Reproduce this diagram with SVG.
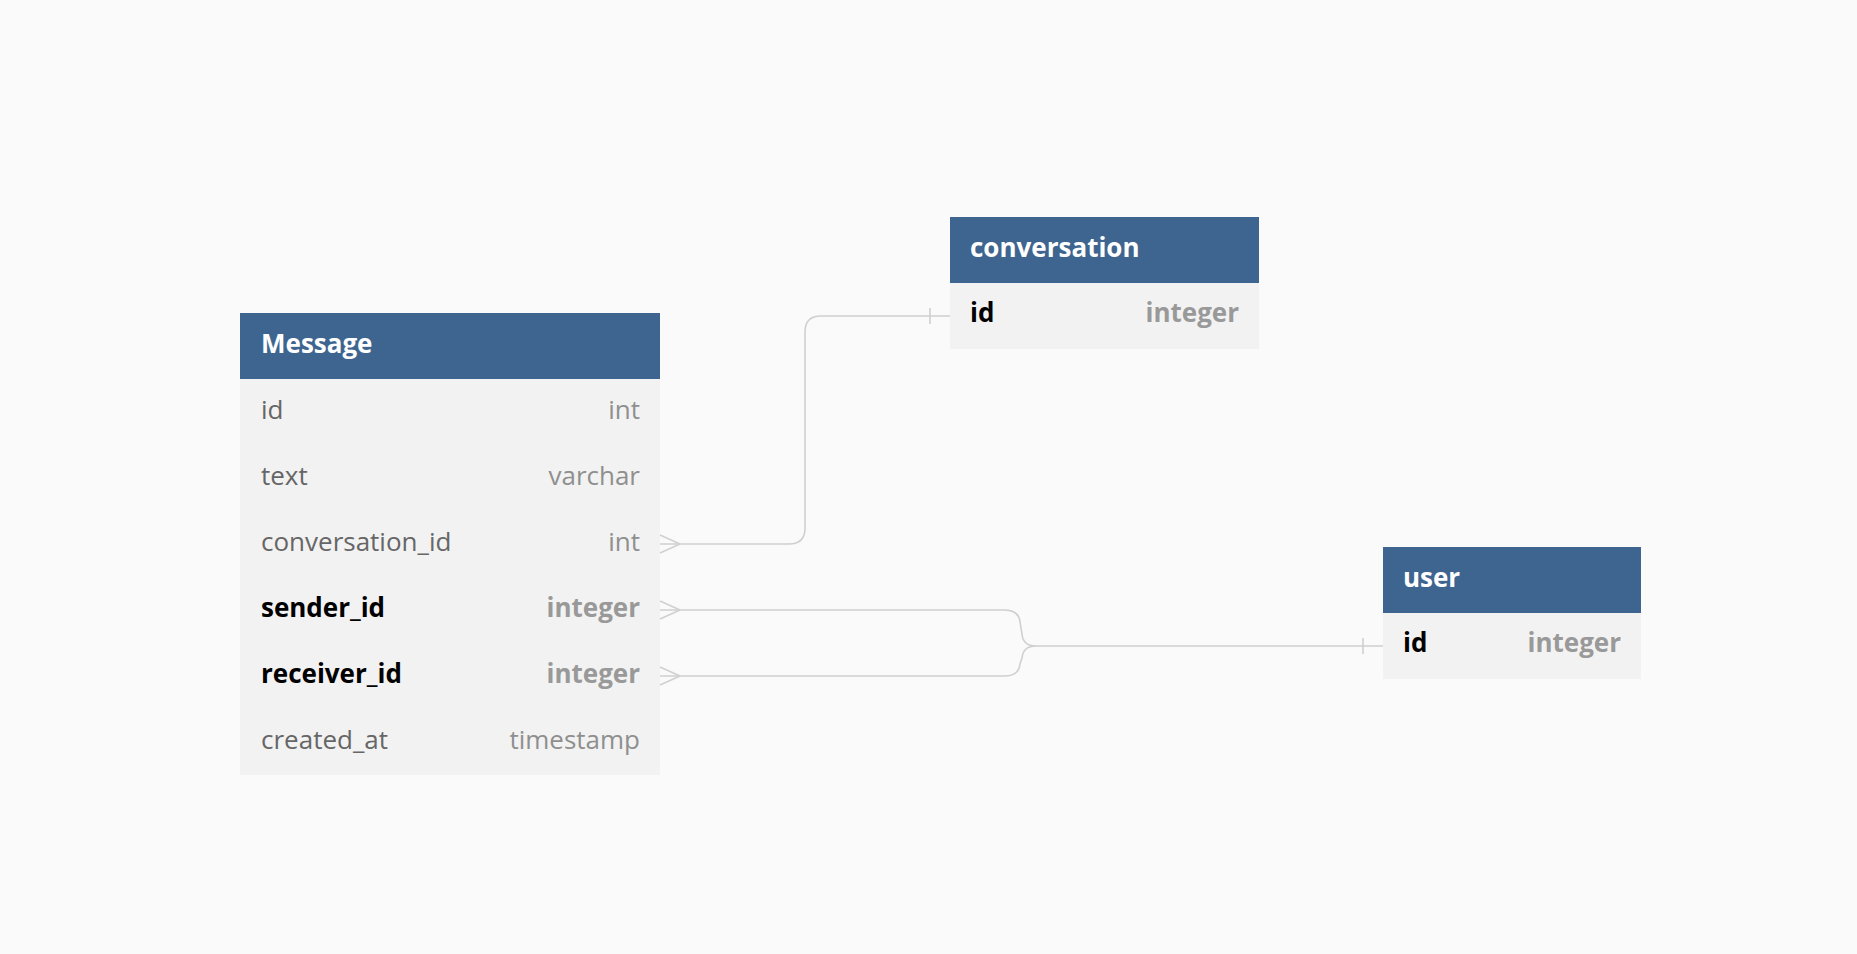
<svg xmlns="http://www.w3.org/2000/svg" width="1857" height="954" viewBox="0 0 1857 954">
<style>
.hdr{fill:#3e658f}
.body{fill:#f2f2f2}
.title{font-family:"Open Sans","Liberation Sans",sans-serif;font-size:26px;font-weight:700;fill:#ffffff}
.f{font-family:"Open Sans","Liberation Sans",sans-serif;font-size:26px;fill:#666666}
.t{font-family:"Open Sans","Liberation Sans",sans-serif;font-size:26px;fill:#8f8f8f;text-anchor:end}
.fb{font-family:"Open Sans","Liberation Sans",sans-serif;font-size:26px;font-weight:700;fill:#000000}
.tb{font-family:"Open Sans","Liberation Sans",sans-serif;font-size:26px;font-weight:700;fill:#999999;text-anchor:end}
.c{fill:none;stroke:#d0d0d0;stroke-width:1.6}
</style>
<rect width="1857" height="954" fill="#fafafa"/>
<g id="connectors">
<path class="c" d="M660,544 H789 Q805,544 805,528 V332 Q805,316 821,316 H950"/>
<path class="c" d="M660,535 L680,544 M660,553 L680,544"/>
<path class="c" d="M930,308 V324"/>
<path class="c" d="M660,610 H1004 Q1019,610 1020,622 L1022,634 Q1023,646 1036,646 H1383"/>
<path class="c" d="M660,676 H1004 Q1019,676 1020,664 L1022,658 Q1023,646 1036,646"/>
<path class="c" d="M660,601 L680,610 M660,619 L680,610"/>
<path class="c" d="M660,667 L680,676 M660,685 L680,676"/>
<path class="c" d="M1363,638 V654"/>
</g>
<g id="Message">
<rect class="body" x="240" y="379" width="420" height="396"/>
<rect class="hdr" x="240" y="313" width="420" height="66"/>
<text class="title" x="261" y="353">Message</text>
<text class="f" x="261" y="418.5">id</text><text class="t" x="640" y="418.5">int</text>
<text class="f" x="261" y="484.5">text</text><text class="t" x="640" y="484.5">varchar</text>
<text class="f" x="261" y="550.5">conversation_id</text><text class="t" x="640" y="550.5">int</text>
<text class="fb" x="261" y="616.5">sender_id</text><text class="tb" x="640" y="616.5">integer</text>
<text class="fb" x="261" y="682.5">receiver_id</text><text class="tb" x="640" y="682.5">integer</text>
<text class="f" x="261" y="748.5">created_at</text><text class="t" x="640" y="748.5">timestamp</text>
</g>
<g id="conversation">
<rect class="body" x="950" y="283" width="309" height="66"/>
<rect class="hdr" x="950" y="217" width="309" height="66"/>
<text class="title" x="970" y="257">conversation</text>
<text class="fb" x="970" y="322">id</text><text class="tb" x="1239" y="322">integer</text>
</g>
<g id="user">
<rect class="body" x="1383" y="613" width="258" height="66"/>
<rect class="hdr" x="1383" y="547" width="258" height="66"/>
<text class="title" x="1403" y="587">user</text>
<text class="fb" x="1403" y="652">id</text><text class="tb" x="1621" y="652">integer</text>
</g>
</svg>
